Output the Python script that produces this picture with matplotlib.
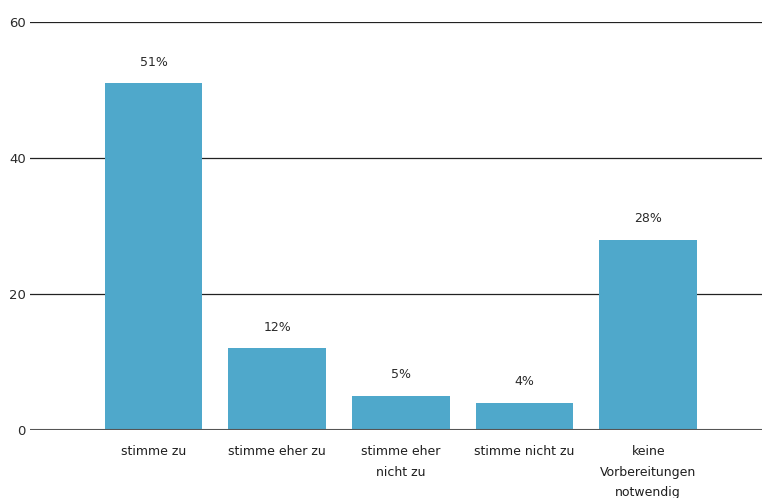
import matplotlib
matplotlib.use("Agg")
import matplotlib.pyplot as plt

categories = ["stimme zu", "stimme eher zu", "stimme eher\nnicht zu", "stimme nicht zu",
              "keine\nVorbereitungen\nnotwendig"]
shares = [51, 12, 5, 4, 28]
y_ticks = [0, 20, 40, 60]

fig = plt.figure(figsize=(7.62, 4.98), dpi=100)
ax = fig.add_axes((30 / 762, 1 - 430 / 498, 1 - 30 / 762, 408 / 498))

positions = list(range(len(categories)))
bars = ax.bar(positions, shares, width=0.79, color="#4fa8cb", zorder=2)
for bar, value in zip(bars, shares):
    ax.annotate(f"{value}%", (bar.get_x() + bar.get_width() / 2, bar.get_height()),
                xytext=(0, 10.5), textcoords="offset points", ha="center", va="bottom",
                fontsize=9, color="#2a2a2a")

ax.set_xlim(-1.0, 4.92)
ax.set_ylim(0, 60)
ax.set_yticks(y_ticks)
ax.set_yticklabels([str(t) for t in y_ticks], fontsize=9.5, color="#2a2a2a")
for t in y_ticks[1:]:
    ax.axhline(t, color="#222222", linewidth=0.9, zorder=1)
ax.axhline(0, color="#555555", linewidth=1.5, zorder=3)

ax.set_xticks(positions)
ax.set_xticklabels(categories, fontsize=9, color="#1e1e1e", linespacing=1.75, va="top")
ax.tick_params(axis="both", length=0)
ax.tick_params(axis="x", pad=11)
ax.tick_params(axis="y", pad=3)
for spine in ax.spines.values():
    spine.set_visible(False)

fig.savefig("out.png", dpi=100)
